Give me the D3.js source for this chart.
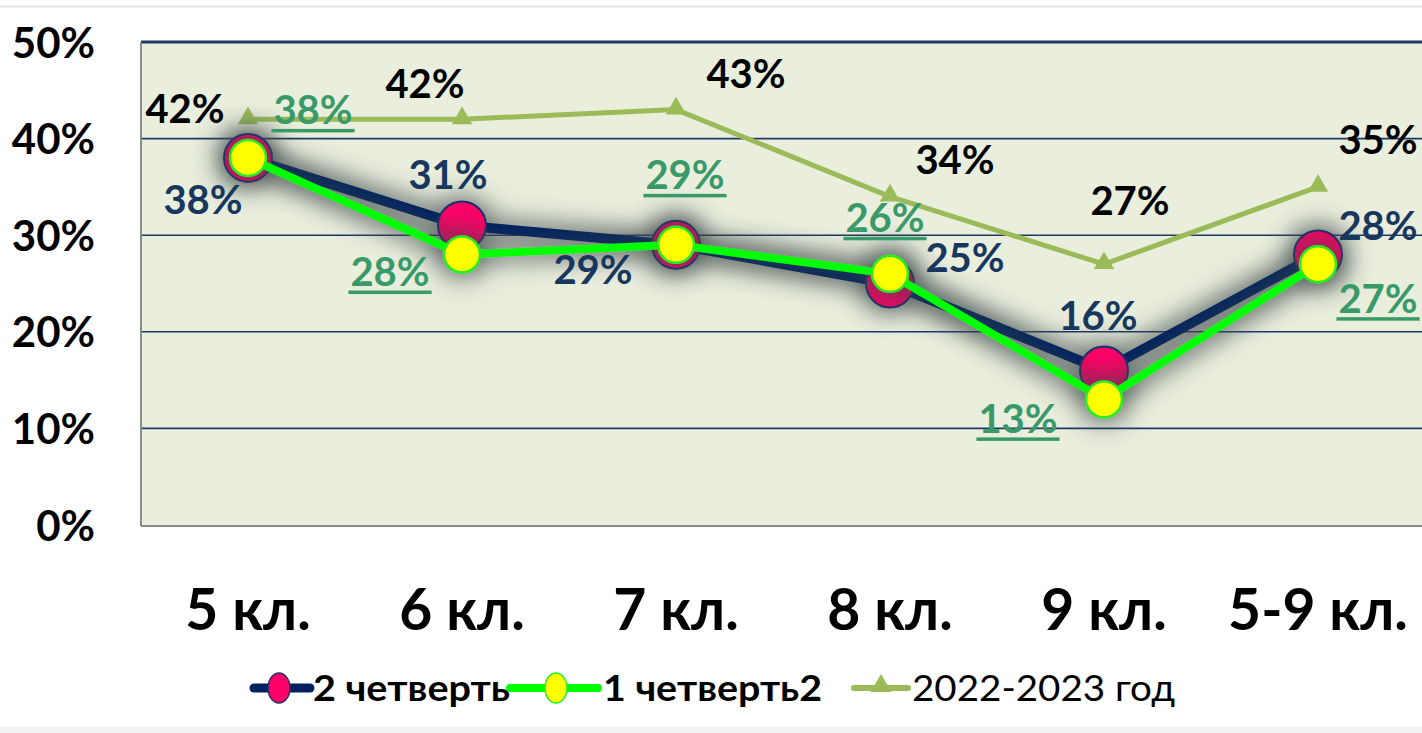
<!DOCTYPE html>
<html><head><meta charset="utf-8">
<script src="https://cdn.jsdelivr.net/npm/d3@7/dist/d3.min.js"></script>
<style>
html,body{margin:0;padding:0;background:#fff;overflow:hidden;}
svg{display:block;font-family:Lato,"Open Sans",sans-serif;}
</style></head>
<body>
<svg id="chart" width="1422" height="733"></svg>
<script>
const categories = ["5 кл.", "6 кл.", "7 кл.", "8 кл.", "9 кл.", "5-9 кл."];
const q2Values = [0.38, 0.31, 0.29, 0.25, 0.16, 0.28];      // 2 четверть
const q1Values = [0.38, 0.28, 0.29, 0.26, 0.13, 0.27];      // 1 четверть2
const prevYearValues = [0.42, 0.42, 0.43, 0.34, 0.27, 0.35]; // 2022-2023 год
const yTicks = [0, 0.1, 0.2, 0.3, 0.4, 0.5];
const seriesNames = ["2 четверть", "1 четверть2", "2022-2023 год"];

// label offsets (layout only)
const q2LabelOff = [[-45,42],[-14,-51],[-83,25],[75,-26],[-6,-55],[60,-29]];
const q1LabelOff = [[65,-48],[-72,17],[9,-70],[-5,-56],[-86,19],[60,34]];
const pyLabelOff = [[-63,-11],[-37,-36],[70,-36],[65,-37],[26,-64],[60,-47]];

(function(){
const svg = d3.select("#chart");
const W = 1422, H = 733;
const pL = 141, pR = 1425, pT = 42, pB = 525;

const x = d3.scaleBand().domain(categories).range([pL, pR]).padding(0);
const y = d3.scaleLinear().domain([0, 0.5]).range([pB, pT]);
const cx = d => x(d) + x.bandwidth() / 2;
const fmt = d3.format(".0%");

const defs = svg.append("defs");
const f = defs.append("filter").attr("id","sh").attr("x","-20%").attr("y","-50%").attr("width","140%").attr("height","200%");
f.append("feMorphology").attr("in","SourceAlpha").attr("operator","dilate").attr("radius",4).attr("result","d");
f.append("feGaussianBlur").attr("in","d").attr("stdDeviation",13).attr("result","b");
f.append("feFlood").attr("flood-color","#3a4848").attr("flood-opacity",0.75);
f.append("feComposite").attr("in2","b").attr("operator","in").attr("result","s");
const m = f.append("feMerge");
m.append("feMergeNode").attr("in","s");
m.append("feMergeNode").attr("in","SourceGraphic");
const pc = defs.append("clipPath").attr("id","pc");
pc.append("rect").attr("x",pL+1).attr("y",pT).attr("width",pR-pL).attr("height",pB-pT);

// page decorations
svg.append("line").attr("x1",0).attr("x2",W).attr("y1",6.5).attr("y2",6.5).attr("stroke","#e4e4e4").attr("stroke-width",2);
svg.append("rect").attr("x",0).attr("y",727).attr("width",W).attr("height",6).attr("fill","#f2f2f2");

// plot area
svg.append("rect").attr("x",pL).attr("y",pT).attr("width",pR-pL).attr("height",pB-pT).attr("fill","#EAEEDD");

// gridlines
svg.append("g").selectAll("line").data(yTicks.filter(t=>t>0)).join("line")
  .attr("x1",pL).attr("x2",pR).attr("y1",d=>y(d)).attr("y2",d=>y(d))
  .attr("stroke","#1F3864").attr("stroke-width",d=>d===0.5?3:1.6);

// borders
svg.append("line").attr("x1",pL).attr("x2",pL).attr("y1",pT).attr("y2",pB+1).attr("stroke","#8a8a8a").attr("stroke-width",2);
svg.append("line").attr("x1",pL).attr("x2",pR).attr("y1",pB+1).attr("y2",pB+1).attr("stroke","#8a8a8a").attr("stroke-width",2);

// y axis
const yAxis = d3.axisLeft(y).tickValues(yTicks).tickFormat(fmt).tickSize(0).tickPadding(0);
const ga = svg.append("g").attr("transform",`translate(95,0)`).call(yAxis);
ga.select(".domain").remove();
ga.selectAll("text").attr("font-size",42).attr("font-weight",700).attr("fill","#000").attr("font-family","Lato").attr("dy","0.36em");

// x axis
const xAxis = d3.axisBottom(x).tickSize(0).tickPadding(0);
const gx = svg.append("g").attr("transform",`translate(0,609)`).call(xAxis);
gx.select(".domain").remove();
gx.selectAll("text").attr("font-size",57).attr("font-weight",700).attr("fill","#000").attr("font-family","Lato").attr("dy","0.36em");

// previous year line
const line = d3.line().x((d,i)=>cx(categories[i])).y(d=>y(d));
svg.append("path").datum(prevYearValues).attr("d",line).attr("fill","none").attr("stroke","#9BBB59").attr("stroke-width",5).attr("stroke-linejoin","round");
const tri = d3.symbol().type(d3.symbolTriangle).size(180);
svg.append("g").selectAll("path").data(prevYearValues).join("path")
  .attr("d",tri).attr("transform",(d,i)=>`translate(${cx(categories[i])},${y(d)-1})`).attr("fill","#9BBB59");

// shadowed groups
const sgc = svg.append("g").attr("clip-path","url(#pc)");
const sg = sgc.append("g").attr("filter","url(#sh)");
sg.append("path").datum(q2Values).attr("d",line).attr("fill","none").attr("stroke","#002060").attr("stroke-width",10).attr("stroke-linejoin","round");
sg.append("g").selectAll("circle").data(q2Values).join("circle")
  .attr("cx",(d,i)=>cx(categories[i])).attr("cy",d=>y(d)).attr("r",24)
  .attr("fill","#FF0066").attr("stroke","#1F2F6E").attr("stroke-width",2);
const sg2 = svg.append("g").attr("filter","url(#sh)");
sg2.append("path").datum(q1Values).attr("d",line).attr("fill","none").attr("stroke","#00FF00").attr("stroke-width",8).attr("stroke-linejoin","round");
sg2.append("g").selectAll("circle").data(q1Values).join("circle")
  .attr("cx",(d,i)=>cx(categories[i])).attr("cy",d=>y(d)).attr("r",18)
  .attr("fill","#FFFF00").attr("stroke","#22EE22").attr("stroke-width",2.5);

// labels
function labels(vals, offs, color, underline){
  const g = svg.append("g");
  vals.forEach((v,i)=>{
    const lx = cx(categories[i]) + offs[i][0], ly = y(v) + offs[i][1];
    const t = g.append("text").attr("x",lx).attr("y",ly).attr("text-anchor","middle").attr("dy","0.36em")
      .attr("font-size",40).attr("font-weight",700).attr("fill",color).attr("font-family","Lato").text(fmt(v));
    if(underline){
      const w = t.node().getComputedTextLength();
      g.append("rect").attr("x",lx-w/2-2).attr("y",ly+19).attr("width",w+4).attr("height",3.5).attr("fill",color);
    }
  });
}
labels(prevYearValues, pyLabelOff, "#000000", false);
labels(q2Values, q2LabelOff, "#17375E", false);
labels(q1Values, q1LabelOff, "#399A69", true);

// legend
const lg = svg.append("g");
const ly0 = 688;
lg.append("line").attr("x1",254).attr("x2",310).attr("y1",ly0).attr("y2",ly0).attr("stroke","#002060").attr("stroke-width",9).attr("stroke-linecap","round");
lg.append("ellipse").attr("cx",279).attr("cy",ly0).attr("rx",11).attr("ry",15).attr("fill","#FF0066").attr("stroke","#1F2F6E").attr("stroke-width",1.5);
lg.append("text").attr("x",313).attr("y",ly0).attr("dy","0.36em").attr("font-size",36).attr("font-weight",700).attr("font-family","Lato")
  .attr("textLength",197).attr("lengthAdjust","spacingAndGlyphs").text(seriesNames[0]);
lg.append("line").attr("x1",510).attr("x2",598).attr("y1",ly0).attr("y2",ly0).attr("stroke","#00FF00").attr("stroke-width",8).attr("stroke-linecap","round");
lg.append("ellipse").attr("cx",556).attr("cy",ly0).attr("rx",11).attr("ry",15).attr("fill","#FFFF00").attr("stroke","#22EE22").attr("stroke-width",1.5);
lg.append("text").attr("x",603).attr("y",ly0).attr("dy","0.36em").attr("font-size",36).attr("font-weight",700).attr("font-family","Lato")
  .attr("textLength",219).attr("lengthAdjust","spacingAndGlyphs").text(seriesNames[1]);
lg.append("line").attr("x1",854).attr("x2",908).attr("y1",ly0).attr("y2",ly0).attr("stroke","#9BBB59").attr("stroke-width",6).attr("stroke-linecap","round");
lg.append("path").attr("d",d3.symbol().type(d3.symbolTriangle).size(190)).attr("transform",`translate(881,${ly0-2})`).attr("fill","#9BBB59");
lg.append("text").attr("x",912).attr("y",ly0).attr("dy","0.36em").attr("font-size",36).attr("font-weight",400).attr("font-family","Lato")
  .attr("textLength",263).attr("lengthAdjust","spacingAndGlyphs").text(seriesNames[2]);
})();
</script>
</body></html>
